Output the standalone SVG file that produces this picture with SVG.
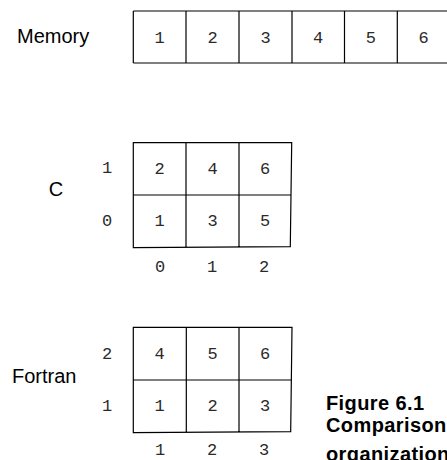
<svg xmlns="http://www.w3.org/2000/svg" width="447" height="460" viewBox="0 0 447 460">
  <style>
    .grid { fill: none; stroke: #000; stroke-width: 1.2; }
    .label { font-family: "Liberation Sans", Arial, sans-serif; font-size: 20px; fill: #000; }
    .num { font-family: "Liberation Mono", "Courier New", monospace; font-size: 17px; fill: #2a2a2a; text-anchor: middle; }
    .caption { font-family: "Liberation Sans", Arial, sans-serif; font-size: 20px; font-weight: bold; letter-spacing: 0.4px; fill: #000; }
  </style>
  <rect width="447" height="460" fill="#fff"/>

  <!-- linear memory strip -->
  <g id="memory">
    <text class="label" x="17" y="43">Memory</text>
    <path class="grid" d="M133.3,11 H450 M133.3,63 H450 M133.3,11 V63 M186,11 V63 M239,11 V63 M292,11 V63 M344.5,11 V63 M397.3,11 V63"/>
    <text class="num" x="159.7" y="43">1</text>
    <text class="num" x="212.5" y="43">2</text>
    <text class="num" x="265.5" y="43">3</text>
    <text class="num" x="318.2" y="43">4</text>
    <text class="num" x="370.9" y="43">5</text>
    <text class="num" x="423.6" y="43">6</text>
  </g>

  <!-- C: row-major layout -->
  <g id="c-array">
    <text class="label" x="56" y="196" text-anchor="middle">C</text>
    <path class="grid" d="M133.3,142.7 L291.7,142.7 L290.3,246.7 L133.3,247.7 Z M133.3,195 L291,195 M186,142.7 V247.4 M239,142.7 V247"/>
    <text class="num" x="159.7" y="173.5">2</text>
    <text class="num" x="212.5" y="173.5">4</text>
    <text class="num" x="265" y="173.5">6</text>
    <text class="num" x="159.7" y="226">1</text>
    <text class="num" x="212.5" y="226">3</text>
    <text class="num" x="265" y="226">5</text>
    <text class="num" x="107" y="173">1</text>
    <text class="num" x="107" y="225.5">0</text>
    <text class="num" x="160" y="272">0</text>
    <text class="num" x="212" y="272">1</text>
    <text class="num" x="264" y="272">2</text>
  </g>

  <!-- Fortran: column-major layout -->
  <g id="fortran-array">
    <text class="label" x="12" y="383">Fortran</text>
    <path class="grid" d="M133.3,327.3 L292,327.3 L290.7,431.7 L133.3,432.7 Z M133.3,380 L291.4,380 M186.3,327.3 V432.4 M239,327.3 V432"/>
    <text class="num" x="159.7" y="358.5">4</text>
    <text class="num" x="212.5" y="358.5">5</text>
    <text class="num" x="265" y="358.5">6</text>
    <text class="num" x="159.7" y="411">1</text>
    <text class="num" x="212.5" y="411">2</text>
    <text class="num" x="265" y="411">3</text>
    <text class="num" x="107" y="358.5">2</text>
    <text class="num" x="107" y="411">1</text>
    <text class="num" x="160" y="455">1</text>
    <text class="num" x="212" y="455">2</text>
    <text class="num" x="264" y="455">3</text>
  </g>

  <!-- caption -->
  <g id="caption">
    <text class="caption" x="326" y="409.5">Figure 6.1</text>
    <text class="caption" x="326" y="432">Comparison</text>
    <text class="caption" x="326" y="461">organization</text>
  </g>
</svg>
